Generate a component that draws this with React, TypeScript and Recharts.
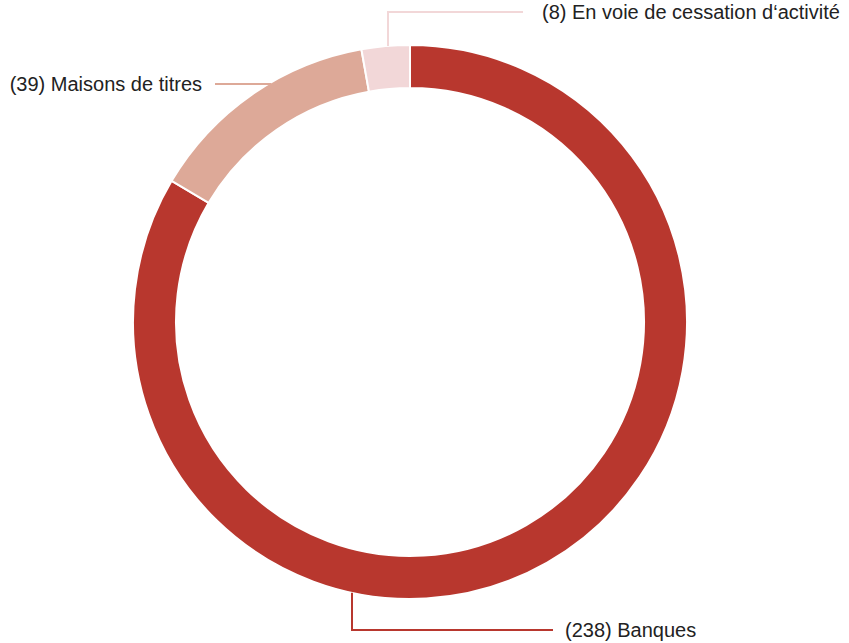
import { PieChart, Pie, Cell } from "recharts";

const categories = ["Banques", "Maisons de titres", "En voie de cessation d‘activité"];
const counts = [238, 39, 8];
const colors = ["#B8372E", "#DDA998", "#F2D7D8"];

const data = categories.map((name, i) => ({ name, value: counts[i] }));

// callout geometry, relative to the pie centre
const callouts = [
  { x: -58, elbowY: 308, endX: 143, textX: 155 },
  { x: 0, y: -238, endX: -195, textX: -208 },
  { x: -22, elbowY: -310, endX: 113, textX: 132 },
];

const FONT = "'Liberation Sans', Arial, Helvetica, sans-serif";

function renderLabel(props: any) {
  const { cx, cy, outerRadius, index } = props;
  const c = callouts[index];
  const color = colors[index];
  const label = `(${counts[index]}) ${categories[index]}`;
  if (index === 1) {
    const dy = c.y as number;
    const sx = cx - Math.sqrt(outerRadius * outerRadius - dy * dy) + 3;
    const y = cy + dy;
    return (
      <g key={`lbl-${index}`}>
        <line x1={sx} y1={y} x2={cx + c.endX} y2={y} stroke={color} strokeWidth={2} />
        <text x={cx + c.textX} y={y} textAnchor="end" dominantBaseline="central" fontFamily={FONT} fontSize={20} fill="#222">
          {label}
        </text>
      </g>
    );
  }
  const x = cx + c.x;
  const dir = (c.elbowY as number) > 0 ? 1 : -1;
  const sy = cy + dir * Math.sqrt(outerRadius * outerRadius - c.x * c.x);
  const ey = cy + (c.elbowY as number);
  return (
    <g key={`lbl-${index}`}>
      <polyline
        points={`${x},${sy} ${x},${ey} ${cx + c.endX},${ey}`}
        fill="none"
        stroke={color}
        strokeWidth={2}
      />
      <text x={cx + c.textX} y={ey} textAnchor="start" dominantBaseline="central" fontFamily={FONT} fontSize={20} fill="#222">
        {label}
      </text>
    </g>
  );
}

export default function App() {
  return (
    <div style={{ position: "absolute", left: 0, top: 0, width: 849, height: 643, background: "#fff" }}>
      <PieChart width={849} height={643} margin={{ top: 0, right: 0, bottom: 0, left: 0 }}>
        <Pie
          data={data}
          dataKey="value"
          nameKey="name"
          cx={410}
          cy={322}
          innerRadius={234}
          outerRadius={277}
          startAngle={90}
          endAngle={-270}
          stroke="#ffffff"
          strokeWidth={2}
          label={renderLabel}
          labelLine={false}
          isAnimationActive={false}
        >
          {data.map((d, i) => (
            <Cell key={d.name} fill={colors[i]} />
          ))}
        </Pie>
      </PieChart>
    </div>
  );
}
